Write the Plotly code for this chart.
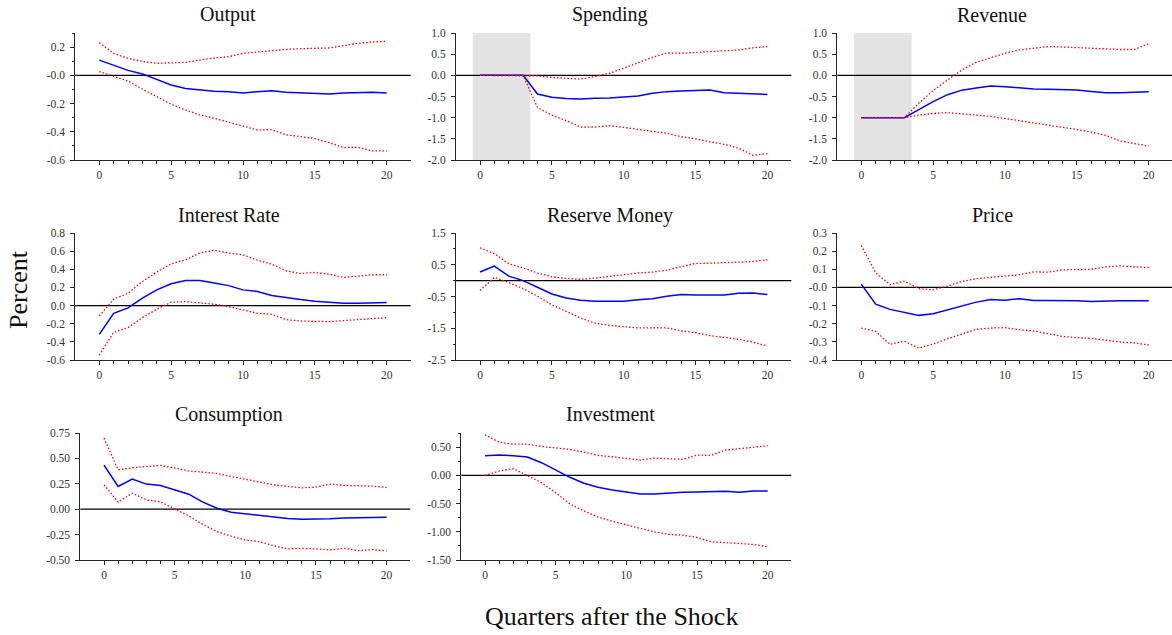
import plotly.graph_objects as go

W, H = 1172, 635
quarters = list(range(21))

# Impulse responses: point estimate and lower / upper bands
output_mean = [0.108, 0.071, 0.035, 0.010, -0.028, -0.068, -0.094, -0.106, -0.113, -0.116, -0.125,
               -0.116, -0.109, -0.120, -0.125, -0.130, -0.132, -0.125, -0.120, -0.120, -0.125]
output_upper = [0.231, 0.156, 0.120, 0.099, 0.085, 0.087, 0.092, 0.108, 0.123, 0.132, 0.156,
                0.165, 0.175, 0.184, 0.189, 0.189, 0.194, 0.210, 0.227, 0.236, 0.241]
output_lower = [0.026, -0.009, -0.040, -0.097, -0.151, -0.205, -0.245, -0.281, -0.304, -0.333, -0.363,
                -0.387, -0.385, -0.422, -0.434, -0.448, -0.477, -0.512, -0.510, -0.536, -0.536]

spending_mean = [0.0, 0.0, 0.0, 0.0, -0.44, -0.52, -0.55, -0.56, -0.54, -0.535, -0.51,
                 -0.49, -0.425, -0.385, -0.37, -0.355, -0.345, -0.41, -0.425, -0.45, -0.45]
spending_upper = [0.0, 0.0, 0.0, 0.0, -0.015, -0.05, -0.07, -0.087, -0.03, 0.047, 0.17,
                  0.30, 0.425, 0.53, 0.52, 0.54, 0.56, 0.58, 0.60, 0.65, 0.68]
spending_lower = [0.0, 0.0, 0.0, 0.0, -0.76, -0.94, -1.07, -1.22, -1.22, -1.19, -1.23,
                  -1.28, -1.33, -1.37, -1.45, -1.50, -1.57, -1.63, -1.72, -1.89, -1.85]

revenue_mean = [-1.0, -1.0, -1.0, -1.0, -0.81, -0.62, -0.457, -0.35, -0.30, -0.25, -0.27,
                -0.30, -0.32, -0.33, -0.34, -0.345, -0.38, -0.41, -0.41, -0.39, -0.385]
revenue_upper = [-1.0, -1.0, -1.0, -1.0, -0.66, -0.36, -0.11, 0.126, 0.31, 0.41, 0.52,
                 0.60, 0.645, 0.68, 0.67, 0.655, 0.64, 0.62, 0.61, 0.61, 0.75]
revenue_lower = [-1.0, -1.0, -1.0, -1.0, -0.94, -0.90, -0.88, -0.91, -0.93, -0.97, -1.02,
                 -1.07, -1.13, -1.17, -1.22, -1.28, -1.34, -1.42, -1.55, -1.61, -1.67]

interest_mean = [-0.317, -0.085, -0.026, 0.081, 0.173, 0.240, 0.276, 0.276, 0.250, 0.220, 0.173,
                 0.155, 0.110, 0.085, 0.066, 0.048, 0.037, 0.026, 0.026, 0.029, 0.033]
interest_upper = [-0.114, 0.070, 0.136, 0.265, 0.370, 0.460, 0.505, 0.580, 0.610, 0.580, 0.560,
                  0.500, 0.457, 0.383, 0.354, 0.365, 0.347, 0.310, 0.324, 0.340, 0.340]
interest_lower = [-0.546, -0.295, -0.243, -0.133, -0.040, 0.037, 0.044, 0.033, 0.015, -0.011, -0.044,
                  -0.085, -0.096, -0.155, -0.170, -0.170, -0.177, -0.166, -0.155, -0.151, -0.133]

reserve_mean = [0.27, 0.46, 0.14, 0.0, -0.21, -0.42, -0.55, -0.62, -0.65, -0.65, -0.65,
                -0.60, -0.57, -0.49, -0.44, -0.45, -0.44, -0.45, -0.40, -0.39, -0.44]
reserve_upper = [1.03, 0.85, 0.53, 0.40, 0.24, 0.12, 0.07, 0.04, 0.08, 0.14, 0.19,
                 0.24, 0.27, 0.33, 0.44, 0.54, 0.55, 0.56, 0.58, 0.60, 0.66]
reserve_lower = [-0.31, 0.10, -0.06, -0.25, -0.49, -0.76, -0.97, -1.18, -1.34, -1.41, -1.45,
                 -1.49, -1.49, -1.49, -1.58, -1.64, -1.73, -1.79, -1.85, -1.94, -2.06]

price_mean = [0.018, -0.092, -0.121, -0.136, -0.154, -0.145, -0.123, -0.101, -0.081, -0.066, -0.070,
              -0.062, -0.072, -0.072, -0.072, -0.073, -0.077, -0.073, -0.073, -0.073, -0.073]
price_upper = [0.231, 0.081, 0.015, 0.035, -0.007, -0.013, 0.007, 0.033, 0.048, 0.055, 0.064,
               0.070, 0.086, 0.084, 0.097, 0.100, 0.100, 0.113, 0.119, 0.113, 0.110]
price_lower = [-0.224, -0.242, -0.314, -0.297, -0.334, -0.312, -0.283, -0.257, -0.231, -0.224, -0.222,
               -0.233, -0.240, -0.255, -0.270, -0.277, -0.281, -0.290, -0.301, -0.306, -0.317]

consumption_mean = [0.434, 0.224, 0.296, 0.247, 0.234, 0.188, 0.148, 0.069, 0.010, -0.030, -0.046,
                    -0.066, -0.082, -0.092, -0.099, -0.099, -0.095, -0.086, -0.082, -0.082, -0.079]
consumption_upper = [0.700, 0.388, 0.408, 0.418, 0.431, 0.405, 0.378, 0.365, 0.352, 0.322, 0.296,
                     0.266, 0.240, 0.224, 0.210, 0.217, 0.247, 0.234, 0.234, 0.227, 0.214]
consumption_lower = [0.240, 0.069, 0.158, 0.092, 0.072, 0.007, -0.066, -0.151, -0.220, -0.266, -0.303,
                     -0.319, -0.359, -0.391, -0.385, -0.391, -0.401, -0.385, -0.408, -0.398, -0.411]

investment_mean = [0.347, 0.359, 0.347, 0.324, 0.224, 0.088, -0.035, -0.141, -0.212, -0.259, -0.300,
                   -0.329, -0.329, -0.312, -0.300, -0.294, -0.282, -0.282, -0.300, -0.276, -0.276]
investment_upper = [0.718, 0.588, 0.553, 0.553, 0.512, 0.482, 0.459, 0.412, 0.353, 0.329, 0.306,
                    0.271, 0.306, 0.294, 0.282, 0.359, 0.353, 0.447, 0.471, 0.488, 0.524]
investment_lower = [0.0, 0.076, 0.118, 0.0, -0.129, -0.306, -0.506, -0.629, -0.741, -0.812, -0.882,
                    -0.941, -1.000, -1.047, -1.059, -1.100, -1.176, -1.188, -1.200, -1.224, -1.265]

# Fiscal-instrument shock window (shaded)
shock_window = (-0.5, 3.5)

# Tick marks and labels
x_major = [0, 5, 10, 15, 20]
x_minor = [q for q in quarters if q % 5 != 0]

output_ticks = [0.2, 0.0, -0.2, -0.4, -0.6]
output_labels = ["0.2", "-0.0", "-0.2", "-0.4", "-0.6"]
output_minor = [0.3, 0.1, -0.1, -0.3, -0.5]

fiscal_ticks = [1.0, 0.5, 0.0, -0.5, -1.0, -1.5, -2.0]
fiscal_labels = ["1.0", "0.5", "0.0", "-0.5", "-1.0", "-1.5", "-2.0"]

interest_ticks = [0.8, 0.6, 0.4, 0.2, 0.0, -0.2, -0.4, -0.6]
interest_labels = ["0.8", "0.6", "0.4", "0.2", "0.0", "-0.2", "-0.4", "-0.6"]

reserve_ticks = [1.5, 0.5, -0.5, -1.5, -2.5]
reserve_labels = ["1.5", "0.5", "-0.5", "-1.5", "-2.5"]
reserve_minor = [1.0, 0.0, -1.0, -2.0]

price_ticks = [0.3, 0.2, 0.1, 0.0, -0.1, -0.2, -0.3, -0.4]
price_labels = ["0.3", "0.2", "0.1", "-0.0", "-0.1", "-0.2", "-0.3", "-0.4"]

consumption_ticks = [0.75, 0.5, 0.25, 0.0, -0.25, -0.5]
consumption_labels = ["0.75", "0.50", "0.25", "0.00", "-0.25", "-0.50"]

investment_ticks = [0.5, 0.0, -0.5, -1.0, -1.5]
investment_labels = ["0.50", "0.00", "-0.50", "-1.00", "-1.50"]
investment_minor = [0.75, 0.25, -0.25, -0.75, -1.25]

# Panel geometry in pixels: (left, right, top, bottom) and title centre
panels = [
    dict(title="Output", mean=output_mean, lo=output_lower, hi=output_upper,
         yr=(-0.6, 0.3), ticks=output_ticks, labels=output_labels, minor=output_minor,
         box=(75.3, 410.7, 33, 160), xr=(-1.67, 21.67), tpos=(228, 15), shock=False),
    dict(title="Spending", mean=spending_mean, lo=spending_lower, hi=spending_upper,
         yr=(-2.0, 1.0), ticks=fiscal_ticks, labels=fiscal_labels, minor=[],
         box=(456, 791.4, 33, 160), xr=(-1.67, 21.67), tpos=(610, 15), shock=True),
    dict(title="Revenue", mean=revenue_mean, lo=revenue_lower, hi=revenue_upper,
         yr=(-2.0, 1.0), ticks=fiscal_ticks, labels=fiscal_labels, minor=[],
         box=(837.3, 1172, 33, 160), xr=(-1.67, 21.62), tpos=(992, 15), shock=True),
    dict(title="Interest Rate", mean=interest_mean, lo=interest_lower, hi=interest_upper,
         yr=(-0.6, 0.8), ticks=interest_ticks, labels=interest_labels, minor=[],
         box=(75.3, 410.7, 233, 360), xr=(-1.67, 21.67), tpos=(229, 215), shock=False),
    dict(title="Reserve Money", mean=reserve_mean, lo=reserve_lower, hi=reserve_upper,
         yr=(-2.5, 1.5), ticks=reserve_ticks, labels=reserve_labels, minor=reserve_minor,
         box=(456, 791.4, 233, 360), xr=(-1.67, 21.67), tpos=(610, 215), shock=False),
    dict(title="Price", mean=price_mean, lo=price_lower, hi=price_upper,
         yr=(-0.4, 0.3), ticks=price_ticks, labels=price_labels, minor=[],
         box=(837.3, 1172, 233, 360), xr=(-1.67, 21.62), tpos=(992, 215), shock=False),
    dict(title="Consumption", mean=consumption_mean, lo=consumption_lower, hi=consumption_upper,
         yr=(-0.5, 0.75), ticks=consumption_ticks, labels=consumption_labels, minor=[],
         box=(80.4, 410.2, 433, 560), xr=(-1.67, 21.67), tpos=(229, 414), shock=False),
    dict(title="Investment", mean=investment_mean, lo=investment_lower, hi=investment_upper,
         yr=(-1.5, 0.75), ticks=investment_ticks, labels=investment_labels, minor=investment_minor,
         box=(461.4, 791.3, 433, 560), xr=(-1.67, 21.67), tpos=(610, 414), shock=False),
]

FONT = "Liberation Serif, DejaVu Serif, serif"
AXIS_COLOR = "#262626"
TEXT_COLOR = "#333333"

fig = go.Figure()
shapes = []
annotations = []
layout_axes = {}

for i, p in enumerate(panels, start=1):
    xa = "x" if i == 1 else f"x{i}"
    ya = "y" if i == 1 else f"y{i}"
    left, right, top, bottom = p["box"]

    layout_axes["xaxis" if i == 1 else f"xaxis{i}"] = dict(
        domain=[left / W, min(right / W, 1.0)],
        anchor=ya, range=list(p["xr"]), automargin=False,
        showline=True, linecolor=AXIS_COLOR, linewidth=1,
        showgrid=False, zeroline=False,
        tickmode="array", tickvals=x_major, ticktext=[str(v) for v in x_major],
        ticks="outside", ticklen=4, tickwidth=1, tickcolor=AXIS_COLOR,
        minor=dict(tickmode="array", tickvals=x_minor, ticks="outside",
                   ticklen=2.5, tickwidth=1, tickcolor=AXIS_COLOR, showgrid=False),
        tickfont=dict(family=FONT, size=11.5, color=TEXT_COLOR),
        fixedrange=True,
    )
    yaxis = dict(
        domain=[1 - bottom / H, 1 - top / H],
        anchor=xa, range=list(p["yr"]), automargin=False,
        showline=True, linecolor=AXIS_COLOR, linewidth=1,
        showgrid=False, zeroline=False,
        tickmode="array", tickvals=p["ticks"], ticktext=p["labels"],
        ticks="outside", ticklen=4, tickwidth=1, tickcolor=AXIS_COLOR,
        ticklabelstandoff=3,
        tickfont=dict(family=FONT, size=11.5, color=TEXT_COLOR),
        fixedrange=True,
    )
    if p["minor"]:
        yaxis["minor"] = dict(tickmode="array", tickvals=p["minor"], ticks="outside",
                              ticklen=2.5, tickwidth=1, tickcolor=AXIS_COLOR, showgrid=False)
    layout_axes["yaxis" if i == 1 else f"yaxis{i}"] = yaxis

    # Shaded shock window
    if p["shock"]:
        shapes.append(dict(type="rect", xref=xa, yref=f"{ya} domain",
                           x0=shock_window[0], x1=shock_window[1], y0=0, y1=1,
                           fillcolor="#e3e3e3", line=dict(width=0), layer="below"))
    # Zero reference line across the full panel width
    shapes.append(dict(type="line", xref=f"{xa} domain", yref=ya,
                       x0=0, x1=1, y0=0, y1=0,
                       line=dict(color="black", width=1.3), layer="below"))

    fig.add_trace(go.Scatter(x=quarters, y=p["mean"], xaxis=xa, yaxis=ya, mode="lines",
                             line=dict(color="#0000ff", width=1.5), showlegend=False,
                             hoverinfo="skip"))
    for band in (p["hi"], p["lo"]):
        fig.add_trace(go.Scatter(x=quarters, y=band, xaxis=xa, yaxis=ya, mode="lines",
                                 line=dict(color="#ff0000", width=1.3, dash="1.5px,2px"),
                                 showlegend=False, hoverinfo="skip"))

    annotations.append(dict(text=p["title"], xref="paper", yref="paper",
                            x=p["tpos"][0] / W, y=1 - p["tpos"][1] / H,
                            xanchor="center", yanchor="middle", showarrow=False,
                            font=dict(family=FONT, size=20, color="#111111")))

annotations.append(dict(text="Quarters after the Shock", xref="paper", yref="paper",
                        x=611 / W, y=1 - 616 / H, xanchor="center", yanchor="middle",
                        showarrow=False, font=dict(family=FONT, size=26, color="#111111")))
annotations.append(dict(text="Percent", xref="paper", yref="paper",
                        x=18 / W, y=1 - 290 / H, xanchor="center", yanchor="middle",
                        textangle=-90, showarrow=False,
                        font=dict(family=FONT, size=26, color="#111111")))

fig.update_layout(
    template="none",
    width=W, height=H,
    margin=dict(l=0, r=0, t=0, b=0, autoexpand=False),
    paper_bgcolor="white", plot_bgcolor="white",
    showlegend=False,
    shapes=shapes, annotations=annotations,
    **layout_axes,
)

fig.write_html("out.html", config=dict(displayModeBar=False))
